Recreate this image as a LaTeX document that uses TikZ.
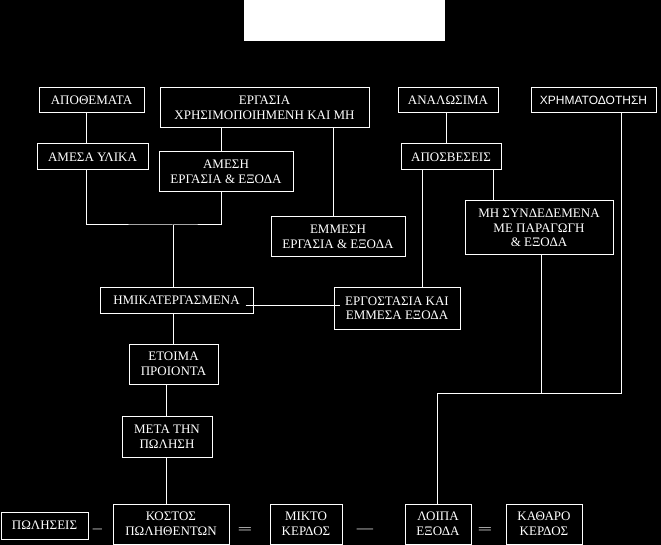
\documentclass[tikz,border=0pt]{standalone}
\usepackage{fontspec}
\setmainfont{Liberation Serif}
\newfontfamily\sansgr{Liberation Sans}
\begin{document}
\begin{tikzpicture}[x=1pt,y=-1pt,
  box/.style={draw=white, line width=1pt, text=white, align=center, inner sep=0pt,
              font=\fontsize{13}{14.5}\selectfont},
  conn/.style={draw=white, line width=1pt},
  op/.style={text=white, inner sep=0pt, anchor=base, font=\fontsize{13}{14.5}\selectfont}]
\fill[black] (0,0) rectangle (661,545);
\useasboundingbox (0,0) rectangle (661,545);
% top white panel
\fill[white] (244,0) rectangle (445,41);

% row 1
\node[box, minimum width=105pt, minimum height=25pt] (apo)  at (91.5,100.5) {ΑΠΟΘΕΜΑΤΑ};
\node[box, minimum width=209pt, minimum height=40pt] (erg)  at (264.5,108) {ΕΡΓΑΣΙΑ\\ΧΡΗΣΙΜΟΠΟΙΗΜΕΝΗ ΚΑΙ ΜΗ};
\node[box, minimum width=100pt, minimum height=25pt] (anal) at (448,100.5) {ΑΝΑΛΩΣΙΜΑ};
\node[box, minimum width=125pt, minimum height=25pt, font=\sansgr\fontsize{12}{14}\selectfont] (xrim) at (593.5,100.5) {ΧΡΗΜΑΤΟΔΟΤΗΣΗ};
% row 2
\node[box, minimum width=111pt, minimum height=26pt] (amyl) at (92.5,157) {ΑΜΕΣΑ ΥΛΙΚΑ};
\node[box, minimum width=134pt, minimum height=40pt] (ameg) at (226,172) {ΑΜΕΣΗ\\ΕΡΓΑΣΙΑ \& ΕΞΟΔΑ};
\node[box, minimum width=100pt, minimum height=26pt] (apos) at (451,157) {ΑΠΟΣΒΕΣΕΙΣ};
% row 3
\node[box, minimum width=134pt, minimum height=40pt] (emm)  at (338,237) {ΕΜΜΕΣΗ\\ΕΡΓΑΣΙΑ \& ΕΞΟΔΑ};
\node[box, minimum width=148pt, minimum height=54pt] (mhs)  at (539,228) {ΜΗ ΣΥΝΔΕΔΕΜΕΝΑ\\ΜΕ ΠΑΡΑΓΩΓΗ\\\& ΕΞΟΔΑ};
% row 4
\node[box, minimum width=153pt, minimum height=25pt] (hmi)  at (176.5,300.5) {ΗΜΙΚΑΤΕΡΓΑΣΜΕΝΑ};
\node[box, minimum width=126pt, minimum height=41pt] (ergo) at (397,308.5) {ΕΡΓΟΣΤΑΣΙΑ ΚΑΙ\\ΕΜΜΕΣΑ ΕΞΟΔΑ};
% column
\node[box, minimum width=89pt, minimum height=40pt] (etoi) at (173.5,364) {ΕΤΟΙΜΑ\\ΠΡΟΙΟΝΤΑ};
\node[box, minimum width=90pt, minimum height=41pt] (meta) at (167,436.5) {ΜΕΤΑ ΤΗΝ\\ΠΩΛΗΣΗ};
% bottom row
\node[box, minimum width=87pt, minimum height=27pt] (pwl)  at (44.5,525.5) {ΠΩΛΗΣΕΙΣ};
\node[box, minimum width=116pt, minimum height=40pt] (kost) at (171,524) {ΚΟΣΤΟΣ\\ΠΩΛΗΘΕΝΤΩΝ};
\node[box, minimum width=72pt, minimum height=40pt] (mikt) at (306,524) {ΜΙΚΤΟ\\ΚΕΡΔΟΣ};
\node[box, minimum width=66pt, minimum height=40pt] (loip) at (438,524) {ΛΟΙΠΑ\\ΕΞΟΔΑ};
\node[box, minimum width=76pt, minimum height=40pt] (kath) at (544,524) {ΚΑΘΑΡΟ\\ΚΕΡΔΟΣ};

% operators
\node[op] (m1) at (97.5,532.5) {\scalebox{1.4}[1]{–}};
\node[op] (e1) at (245,533.5) {\scalebox{2}[1]{=}};
\node[op] (m2) at (365,532.5) {\scalebox{1.25}[1]{—}};
\node[op] (e2) at (485,533.5) {\scalebox{2}[1]{=}};

% connectors
\draw[conn] ([xshift=-5.5]apo.south) -- ([xshift=-5.5]apo.south |- amyl.north);
\draw[conn] ([xshift=-43.5]erg.south) -- ([xshift=-43.5]erg.south |- ameg.north);
\draw[conn] ([xshift=68.5]erg.south) -- ([xshift=68.5]erg.south |- emm.north);
\coordinate (j1) at (173,225);
\draw[conn] ([xshift=-6.5]amyl.south) |- (j1) -| ([xshift=-5]ameg.south);
\draw[conn] (j1) -- (j1 |- hmi.north);
\draw[conn] ([xshift=-2]anal.south) -- ([xshift=-2]anal.south |- apos.north);
\draw[conn] ([xshift=-29]apos.south) -- ([xshift=-29]apos.south |- ergo.north);
\draw[conn] ([xshift=42]apos.south) -- ([xshift=42]apos.south |- mhs.north);
\path ([xshift=-8,yshift=-4.5]hmi.east) coordinate (h1);
\path ([xshift=6]ergo.west) coordinate (h2);
\draw[conn] (h1) -- (h1 -| h2);
\draw[conn] ([xshift=-3.5]hmi.south) -- ([xshift=-3.5]hmi.south |- etoi.north);
\draw[conn] ([xshift=-7.5]etoi.south) -- ([xshift=-7.5]etoi.south |- meta.north);
\draw[conn] ([xshift=-1]meta.south) -- ([xshift=-1]meta.south |- kost.north);
\coordinate (j2) at (541,393);
\draw[conn] ([xshift=2]mhs.south) -- ([xshift=2]mhs.south |- j2);
\draw[conn] ([xshift=27.5]xrim.south) |- ([xshift=-1]loip.north |- j2) -- ([xshift=-1]loip.north);
\end{tikzpicture}
\end{document}
